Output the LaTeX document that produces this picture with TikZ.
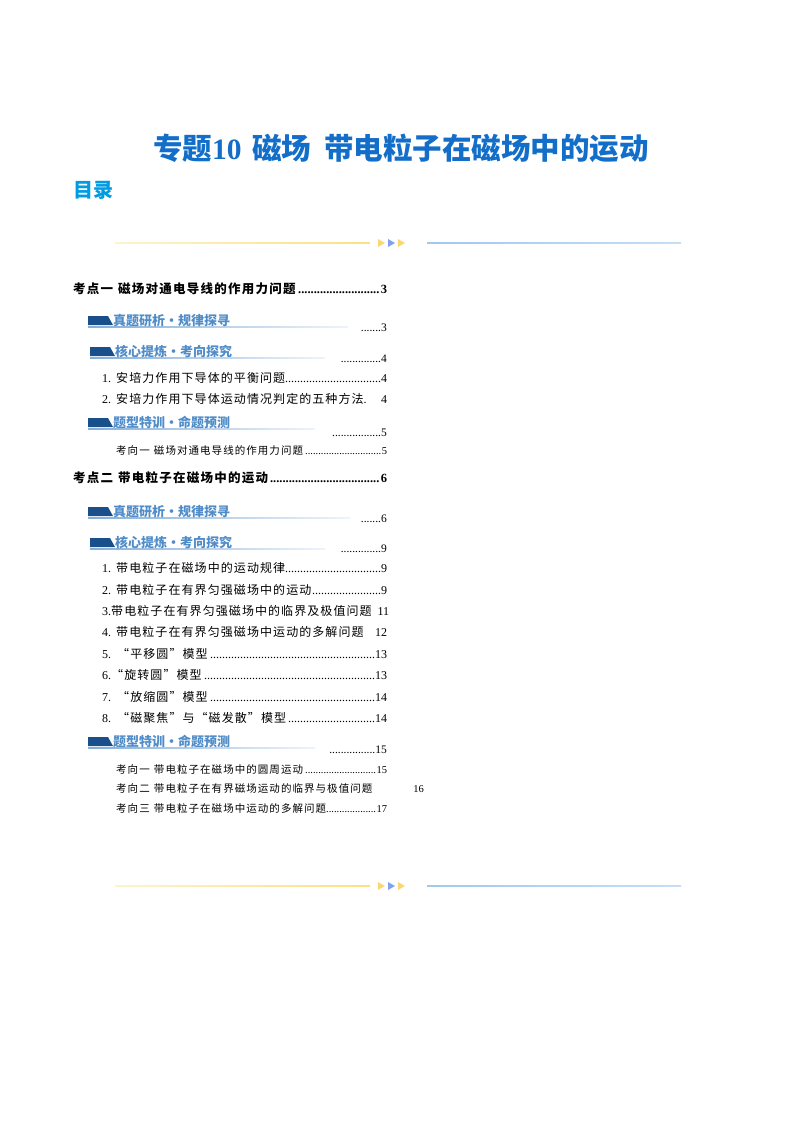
\documentclass[tikz,border=0pt]{standalone}
\usepackage{fontspec}
\setmainfont{Noto Sans CJK SC}
\newfontfamily\ser{Liberation Serif}
\newcommand{\dfill}{\leaders\hbox{\ser .}\hfill}
\definecolor{tblue}{RGB}{18,110,200}
\definecolor{mblue}{RGB}{0,155,225}
\definecolor{dkb}{RGB}{25,80,140}
\definecolor{lb}{RGB}{80,140,200}
\definecolor{ylw}{RGB}{250,225,130}
\definecolor{lnb}{RGB}{160,200,240}
\tikzset{x=1pt,y=-1pt,
 ent/.style={anchor=base west,inner sep=0pt,font=\fontsize{12}{14}\selectfont\addfontfeature{LetterSpace=9}},
 hd/.style={anchor=base west,inner sep=0pt,font=\fontsize{12.5}{14}\selectfont\bfseries\addfontfeature{LetterSpace=10}},
 sm/.style={anchor=base west,inner sep=0pt,font=\fontsize{10.5}{11}\selectfont\addfontfeature{LetterSpace=10}},
 pg/.style={anchor=base east,inner sep=0pt,font=\fontsize{11.5}{14}\selectfont\ser},
 btxt/.style={anchor=base west,inner sep=0pt,text=lb,font=\fontsize{13}{14}\selectfont\bfseries}}
\newcommand{\ban}[4]{% x, y(base), underline end, text
 \fill[dkb] (#1,#2-9) -- (#1+20,#2-9) -- (#1+25,#2) -- (#1,#2) -- cycle;
 \shade[left color=lb!70,right color=lb!10] (#1,#2+1.5) rectangle (#3,#2+2.5);
 \node[btxt] (b#1#2) at (#1+25,#2) {#4};}
\newcommand{\divi}[1]{%
 \shade[left color=ylw!40,right color=ylw] (115,#1-0.8) rectangle (370,#1+0.8);
 \fill[ylw!90!orange] (378,#1-4) -- (385,#1) -- (378,#1+4) -- cycle;
 \fill[lnb!80!blue] (388,#1-4) -- (395,#1) -- (388,#1+4) -- cycle;
 \fill[ylw!90!orange] (398,#1-4) -- (405,#1) -- (398,#1+4) -- cycle;
 \shade[left color=lnb,right color=lnb!60] (427,#1-0.8) rectangle (681,#1+0.8);}
\begin{document}
\begin{tikzpicture}
\useasboundingbox (0,0) rectangle (800,1132);
\node[text=tblue,font=\fontsize{29.5}{31}\selectfont\bfseries,inner sep=0pt] (title) at (401,148) {专题{\ser 10}\hspace{0.35em}磁场\hspace{0.45em}带电粒子在磁场中的运动};
\node[text=mblue,font=\fontsize{20}{22}\selectfont\bfseries,anchor=west,inner sep=0pt] (ml) at (73,190) {目录};
\divi{243}
\divi{886}
% kaodian 1
\node[hd] (k1) at (73,293) {\makebox[314pt][l]{考点一\hspace{0.4em}磁场对通电导线的作用力问题\dfill{\ser 3}}};
\ban{88}{325}{348}{真题研析·规律探寻}
\node[pg] (p1) at (387,331) {.......3};
\ban{90}{356}{325}{核心提炼·考向探究}
\node[pg] (p2) at (387,362) {..............4};
\node[ent] (i1) at (102,382) {\makebox[285pt][l]{{\ser 1.} 安培力作用下导体的平衡问题\dfill{\ser 4}}};
\node[ent] (i2) at (102,403) {\makebox[285pt][l]{{\ser 2.} 安培力作用下导体运动情况判定的五种方法{\ser .}\hfill{\ser 4}}};
\ban{88}{427}{315}{题型特训·命题预测}
\node[pg] (p3) at (387,436) {.................5};
\node[sm] (x1) at (116,454) {\makebox[271pt][l]{考向一\hspace{0.4em}磁场对通电导线的作用力问题\dfill{\ser 5}}};
% kaodian 2
\node[hd] (k2) at (73,482) {\makebox[314pt][l]{考点二\hspace{0.4em}带电粒子在磁场中的运动\dfill{\ser 6}}};
\ban{88}{516}{350}{真题研析·规律探寻}
\node[pg] (p4) at (387,522) {.......6};
\ban{90}{547}{325}{核心提炼·考向探究}
\node[pg] (p5) at (387,552) {..............9};
\node[ent] (j1) at (102,572) {\makebox[285pt][l]{{\ser 1.} 带电粒子在磁场中的运动规律\dfill{\ser 9}}};
\node[ent] (j2) at (102,594) {\makebox[285pt][l]{{\ser 2.} 带电粒子在有界匀强磁场中的运动\dfill{\ser 9}}};
\node[ent] (j3) at (102,615) {\makebox[287pt][l]{{\ser 3.}带电粒子在有界匀强磁场中的临界及极值问题\hfill{\ser 11}}};
\node[ent] (j4) at (102,636) {\makebox[285pt][l]{{\ser 4.} 带电粒子在有界匀强磁场中运动的多解问题\hfill{\ser 12}}};
\node[ent] (j5) at (102,658) {\makebox[285pt][l]{{\ser 5.}\hspace{0.5em}“平移圆”模型\dfill{\ser 13}}};
\node[ent] (j6) at (102,679) {\makebox[285pt][l]{{\ser 6.}“旋转圆”模型\dfill{\ser 13}}};
\node[ent] (j7) at (102,701) {\makebox[285pt][l]{{\ser 7.}\hspace{0.5em}“放缩圆”模型\dfill{\ser 14}}};
\node[ent] (j8) at (102,722) {\makebox[285pt][l]{{\ser 8.}\hspace{0.5em}“磁聚焦”与“磁发散”模型\dfill{\ser 14}}};
\ban{88}{746}{315}{题型特训·命题预测}
\node[pg] (p6) at (387,753) {................15};
\node[sm] (y1) at (116,773) {\makebox[271pt][l]{考向一\hspace{0.4em}带电粒子在磁场中的圆周运动\dfill{\ser 15}}};
\node[sm] (y2) at (116,792) {考向二\hspace{0.4em}带电粒子在有界磁场运动的临界与极值问题};
\node[pg,font=\fontsize{10.5}{12}\selectfont\ser] (p7) at (424,792) {16};
\node[sm] (y3) at (116,812) {\makebox[271pt][l]{考向三\hspace{0.4em}带电粒子在磁场中运动的多解问题\dfill{\ser 17}}};
\end{tikzpicture}
\end{document}
